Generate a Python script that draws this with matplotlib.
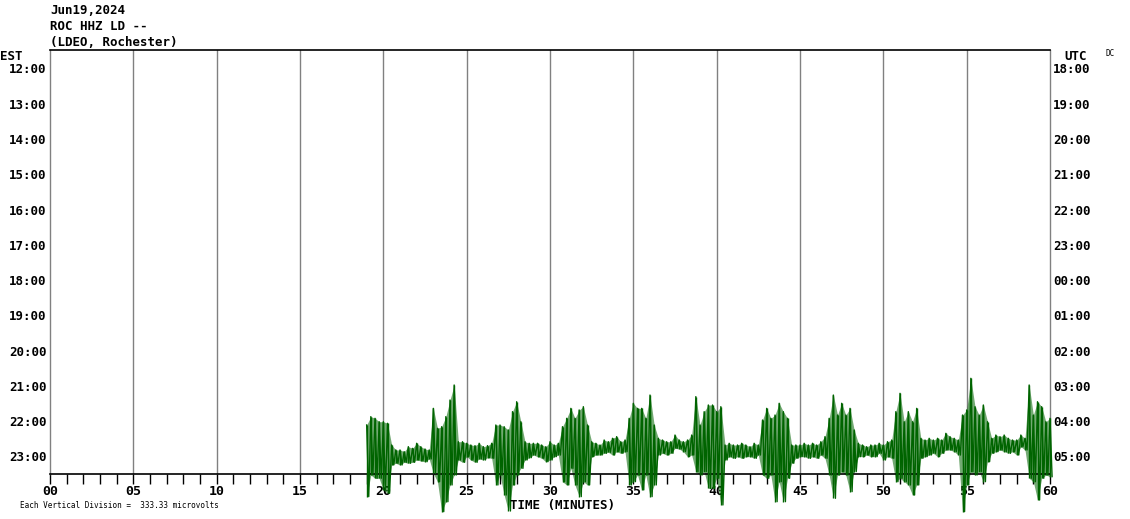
import numpy as np
import matplotlib
matplotlib.use("Agg")
import matplotlib.pyplot as plt

# ---------------- data ----------------
title_lines = ["Jun19,2024", "ROC HHZ LD --", "(LDEO, Rochester)"]
est_labels = ["12:00", "13:00", "14:00", "15:00", "16:00", "17:00",
              "18:00", "19:00", "20:00", "21:00", "22:00", "23:00"]
utc_labels = ["18:00", "19:00", "20:00", "21:00", "22:00", "23:00",
              "00:00", "01:00", "02:00", "03:00", "04:00", "05:00"]
x_ticks = [0, 5, 10, 15, 20, 25, 30, 35, 40, 45, 50, 55, 60]
x_tick_labels = ["00", "05", "10", "15", "20", "25", "30", "35", "40", "45", "50", "55", "60"]
microvolts_per_div = 333.33

# trace in the last (23:00) row, sampled every 0.25 min from 19.0 to 60.0
trace_row = 11
trace_t0 = 19.0
trace_dt = 0.25
# upper and lower extremes of the trace (microvolts relative to row line)
trace_hi = [312, 391, 375, 343, 343, 328, 123, 76, 76, 60, 107, 91, 139, 107, 85, 76,
            469, 280, 296, 391, 548, 690, 154, 154, 139, 123, 117, 139, 107, 117, 139,
            312, 312, 296, 265, 438, 532, 343, 154, 139, 139, 139, 123, 107, 154, 123,
            139, 296, 375, 469, 375, 454, 485, 312, 154, 139, 123, 170, 154, 186, 202,
            154, 170, 375, 517, 469, 469, 375, 595, 312, 186, 170, 154, 154, 217, 170,
            154, 170, 217, 580, 312, 438, 501, 501, 438, 485, 123, 139, 123, 123, 139,
            123, 107, 139, 123, 359, 469, 375, 406, 517, 438, 375, 123, 123, 123, 139,
            123, 139, 123, 154, 202, 375, 595, 406, 517, 406, 469, 265, 139, 123, 107,
            123, 123, 139, 123, 154, 170, 438, 611, 343, 438, 343, 469, 186, 170, 186,
            170, 186, 170, 233, 202, 186, 170, 406, 454, 753, 485, 406, 501, 343, 186,
            217, 202, 217, 186, 170, 170, 217, 186, 690, 406, 532, 485, 343, 375]
trace_lo = [-365, -161, -192, -192, -302, -334, -66, -50, -66, -41, -50, -41, -19, -28,
            -35, -9, -145, -224, -507, -413, -255, -161, -19, -41, 13, -19, -41, -9, -19,
            3, -3, -255, -161, -350, -501, -255, -161, -98, -19, 3, 28, 13, -3, -35, -19,
            13, 28, -224, -255, -98, -255, -365, -224, -255, 13, 28, 28, 44, 54, 28, 60,
            44, 60, -255, -224, -161, -302, -161, -365, -255, 28, 44, 28, 44, 91, 85, 60,
            13, 28, -129, -161, -129, -287, -287, -192, -444, -19, 13, -3, 13, -3, 13, 13,
            -3, 28, -161, -192, -161, -413, -224, -413, -192, -50, -3, 13, 13, -3, 13, -3,
            28, -3, -161, -381, -161, -129, -161, -318, -129, 13, 13, 28, 13, 13, 44, -19,
            13, -3, -224, -192, -224, -255, -350, -255, -3, 13, 28, 44, 13, 44, 76, 76, 60,
            28, -507, -255, -129, -161, -129, -224, -35, 44, 60, 76, 60, 44, 60, 28, 107,
            76, -192, -224, -397, -192, -161, -176]

# ---------------- figure ----------------
W, H = 1130, 519
fig = plt.figure(figsize=(W / 100, H / 100), dpi=100)
fig.patch.set_facecolor("white")

ax_left, ax_right = 50 / W, 1050 / W
ax_bottom, ax_top = (H - 474) / H, (H - 50) / H
ax = fig.add_axes([ax_left, ax_bottom, ax_right - ax_left, ax_top - ax_bottom])

ax.set_xlim(0, 60)
ax.set_ylim(11.454, -0.567)

mono = "DejaVu Sans Mono"
grid_c = "#808080"
green = "#006400"

for xv in x_ticks[1:-1]:
    ax.axvline(xv, color=grid_c, lw=1.0, zorder=1)

for side in ("left", "right"):
    ax.spines[side].set_color(grid_c)
    ax.spines[side].set_linewidth(1.0)
for side in ("top", "bottom"):
    ax.spines[side].set_color("black")
    ax.spines[side].set_linewidth(1.2)

ax.set_yticks([])
ax.set_xticks(x_ticks)
ax.set_xticks(range(0, 61), minor=True)
ax.set_xticklabels(x_tick_labels, fontfamily=mono, fontweight="bold", fontsize=9.5)
ax.tick_params(axis="x", which="both", direction="out", length=7, width=1,
               color="black", pad=1)

# row labels
for i, (e, u) in enumerate(zip(est_labels, utc_labels)):
    ax.text(-0.2, i, e, transform=ax.transData, ha="right", va="center",
            fontfamily=mono, fontweight="bold", fontsize=9)
    ax.text(60.2, i, u, transform=ax.transData, ha="left", va="center",
            fontfamily=mono, fontweight="bold", fontsize=9)

# trace: light envelope fill plus zigzag / bars between read extremes
n = len(trace_hi)
ts = trace_t0 + trace_dt * np.arange(n)
y_hi = trace_row - np.array(trace_hi) / microvolts_per_div
y_lo = trace_row - np.array(trace_lo) / microvolts_per_div
ax.fill_between(ts, y_hi, y_lo, color=green, lw=0, alpha=0.55, clip_on=False, zorder=2)
ax.vlines(ts, y_hi, y_lo, color=green, lw=1.0, clip_on=False, zorder=3)
xs = np.empty(2 * n)
ys = np.empty(2 * n)
xs[0::2] = ts
xs[1::2] = ts + trace_dt / 2
ys[0::2] = y_hi
ys[1::2] = y_lo
ax.plot(xs, ys, color=green, lw=1.0, clip_on=False, zorder=3)

# header text
for k, line in enumerate(title_lines):
    fig.text(50 / W, 1 - (11 + 16 * k) / H, line, ha="left", va="center",
             fontfamily=mono, fontweight="bold", fontsize=9)
fig.text(0 / W, 1 - 56 / H, "EST", ha="left", va="center",
         fontfamily=mono, fontweight="bold", fontsize=9)
fig.text(1064 / W, 1 - 56 / H, "UTC", ha="left", va="center",
         fontfamily=mono, fontweight="bold", fontsize=9)
fig.text(1105 / W, 1 - 53 / H, "DC", ha="left", va="center",
         fontfamily=mono, fontsize=5.5)
fig.text(562 / W, 1 - 505 / H, "TIME (MINUTES)", ha="center", va="center",
         fontfamily=mono, fontweight="bold", fontsize=9)
fig.text(20 / W, 1 - 505 / H,
         "Each Vertical Division =  %.2f microvolts" % microvolts_per_div,
         ha="left", va="center", fontfamily=mono, fontsize=5.5)

fig.savefig("out.png", dpi=100, facecolor="white")
